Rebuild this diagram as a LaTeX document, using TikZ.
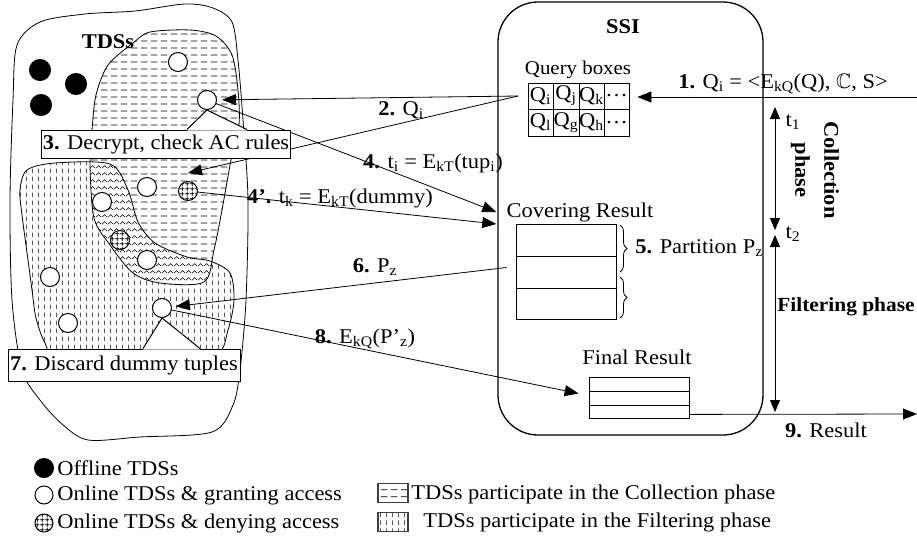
\documentclass[tikz,border=0pt]{standalone}
\usepackage{amssymb}
\usepackage{fontspec}
\setmainfont{Liberation Serif}[FakeStretch=1.07]
\usepackage{tikz}
\usetikzlibrary{arrows.meta,patterns,decorations.pathreplacing}

\newcommand{\bigfont}{\fontsize{21}{25}\selectfont}
\newcommand{\sbs}[1]{\textsubscript{#1}}

% fills of the two phases and of the denying TDSs
\pgfdeclarepatternformonly{hdash}{\pgfqpoint{0pt}{0pt}}{\pgfqpoint{10pt}{7pt}}{\pgfqpoint{10pt}{7pt}}{%
  \pgfsetlinewidth{0.8pt}%
  \pgfpathmoveto{\pgfqpoint{1pt}{3.5pt}}\pgfpathlineto{\pgfqpoint{8pt}{3.5pt}}\pgfusepath{stroke}}
\pgfdeclarepatternformonly{vdash}{\pgfqpoint{0pt}{0pt}}{\pgfqpoint{6pt}{8pt}}{\pgfqpoint{6pt}{8pt}}{%
  \pgfsetlinewidth{0.6pt}%
  \pgfpathmoveto{\pgfqpoint{3pt}{1pt}}\pgfpathlineto{\pgfqpoint{3pt}{6pt}}\pgfusepath{stroke}}
\pgfdeclarepatternformonly{zigzag}{\pgfqpoint{0pt}{0pt}}{\pgfqpoint{6pt}{7pt}}{\pgfqpoint{6pt}{7pt}}{%
  \pgfsetlinewidth{0.6pt}%
  \pgfpathmoveto{\pgfqpoint{0pt}{2pt}}\pgfpathlineto{\pgfqpoint{3pt}{5pt}}\pgfpathlineto{\pgfqpoint{6pt}{2pt}}\pgfusepath{stroke}}
\pgfdeclarepatternformonly{cgrid}{\pgfqpoint{0pt}{0pt}}{\pgfqpoint{5pt}{5pt}}{\pgfqpoint{5pt}{5pt}}{%
  \pgfsetlinewidth{0.9pt}%
  \pgfpathmoveto{\pgfqpoint{0pt}{2.5pt}}\pgfpathlineto{\pgfqpoint{5pt}{2.5pt}}%
  \pgfpathmoveto{\pgfqpoint{2.5pt}{0pt}}\pgfpathlineto{\pgfqpoint{2.5pt}{5pt}}\pgfusepath{stroke}}

% outlines of the TDSs areas
\newcommand{\tdsarea}{plot[smooth cycle] coordinates {(17,45) (40,22) (85,14) (135,11) (185,4) (213,8) (232,22) (238,60) (243,120) (248,200) (246,300) (240,370) (233,405) (212,432) (140,437) (88,440) (62,424) (40,400) (22,370) (12,300) (10,200) (13,100)}}
\newcommand{\collarea}{plot[smooth cycle] coordinates {(133,43) (150,32) (190,30) (216,36) (232,55) (238,90) (239,125) (231,160) (222,210) (214,250) (204,282) (160,283) (133,273) (110,245) (94,218) (90,165) (92,130) (96,95) (108,65)}}
\newcommand{\filtarea}{plot[smooth cycle] coordinates {(27,170) (55,163) (110,164) (128,190) (138,222) (155,243) (187,257) (210,261) (230,273) (234,300) (228,330) (215,355) (150,358) (60,358) (45,343) (36,318) (32,290) (28,260) (22,215) (20,190)}}

\tikzset{
  online/.style={circle, draw, fill=white, line width=1pt, minimum size=19pt, inner sep=0pt},
  offline/.style={online, fill=black, minimum size=21pt},
  denied/.style={online, preaction={fill=white}, pattern=cgrid},
  callbox/.style={draw, fill=white, line width=1pt, minimum height=28pt},
  arr/.style={-{Triangle[length=14pt,width=11pt]}},
  phasearr/.style={{Triangle[length=12pt,width=10pt]}-{Triangle[length=12pt,width=10pt]}},
  legbox/.style={draw=black!75, line width=1.5pt, minimum width=30pt, minimum height=19pt, inner sep=0pt},
}

\begin{document}
\begin{tikzpicture}[x=1pt, y=-1pt, font=\bigfont, inner sep=1pt, line width=0.8pt]
	\useasboundingbox (0,0) rectangle (917,541);

	% TDSs
	\draw[fill=white] \tdsarea;
	\fill[pattern=vdash] \filtarea;
	\fill[pattern=hdash] \collarea;
	\begin{scope}
		\clip \collarea;
		\fill[white] \filtarea;
		\fill[pattern=zigzag] \filtarea;
	\end{scope}
	\draw \collarea;
	\draw \filtarea;
	\node[font=\bigfont\bfseries] (tdst) at (108,42) {TDSs};

	\node[offline] (off1) at (40,70) {};
	\node[offline] (off2) at (76,84) {};
	\node[offline] (off3) at (41,105) {};
	\node[online] (on1) at (178,62) {};
	\node[online] (on2) at (207,100) {};
	\node[online] (on3) at (147,187) {};
	\node[online] (on4) at (102,202) {};
	\node[online] (on5) at (147,260) {};
	\node[online] (on6) at (50,277) {};
	\node[online] (on7) at (162,308) {};
	\node[online] (on8) at (68,323) {};
	\node[denied] (dn1) at (188,191) {};
	\node[denied] (dn2) at (120,240) {};

	% SSI
	\node[draw, line width=1.3pt, rounded corners=40pt, minimum width=265pt, minimum height=433pt] (ssi) at (630.5,218.5) {};
	\node[font=\bigfont\bfseries] (ssit) at (623,27) {SSI};

	\node[font=\fontsize{19.5}{22}\selectfont] (qbt) at (578,70) {Query boxes};
	\node[draw, minimum width=101pt, minimum height=53pt, inner sep=0pt] (qb) at (578.5,109.5) {};
	\draw (qb.west) -- (qb.east);
	\foreach \x in {553,579,604} \draw (\x,83) -- (\x,136);
	\foreach \t/\x/\y [count=\k] in {Q\sbs{i}/540.5/96, Q\sbs{j}/566/96, Q\sbs{k}/591.5/96, …/616.5/96,
		Q\sbs{l}/540.5/122.5, Q\sbs{g}/566/122.5, Q\sbs{h}/591.5/122.5, …/616.5/122.5}
		\node[inner sep=0pt] (q\k) at (\x,\y) {\t};

	\node (covt) at (580,212) {Covering Result};
	\node[draw, minimum width=100pt, minimum height=95pt, inner sep=0pt] (crb) at (566,271.5) {};
	\draw (516,256) -- (616,256);
	\draw (516,288) -- (616,288);
	\draw[decorate, decoration={brace, amplitude=7pt}] (620,225) -- (620,272);
	\draw[decorate, decoration={brace, amplitude=7pt}] (620,277) -- (620,318);
	\node[anchor=west] (part) at (634,248) {\textbf{5.} Partition P\sbs{z}};

	\node (fint) at (637,357) {Final Result};
	\node[draw, minimum width=100pt, minimum height=41pt, inner sep=0pt] (frb) at (639,397.5) {};
	\draw (589,391) -- (689,391);
	\draw (589,405) -- (689,405);

	% time line
	\coordinate (ta) at (775,107);
	\coordinate (tb) at (775,230);
	\coordinate (tc) at (775,235);
	\coordinate (td) at (775,412);
	\draw[phasearr] (ta) -- (tb);
	\draw[phasearr] (tc) -- (td);
	\node (t1) at (793,122) {t\sbs{1}};
	\node (t2) at (793,234) {t\sbs{2}};
	\node[rotate=-90, align=center, font=\bigfont\bfseries] (colp) at (815,170) {Collection\\[4pt]phase};
	\node[anchor=east, font=\fontsize{20}{24}\selectfont\bfseries] (filp) at (916,307) {Filtering phase};

	% messages
	\coordinate (qin) at (917,97);
	\coordinate (qout) at (518,96);
	\coordinate (rout) at (917,414);
	\draw[arr, shorten >=8pt] (qin) -- (qin -| qb.east);
	\node (l1) at (783,84) {\textbf{1.} Q\sbs{i} = <E\sbs{kQ}(Q), $\mathbb{C}$, S>};
	\draw[arr, shorten >=5pt] (qout) -- (on2);
	\draw[arr] (qout) -- ([yshift=8pt]dn1.north);
	\node (l2) at (401,110) {\textbf{2.} Q\sbs{i}};
	\draw[arr] (on2) -- ([xshift=-9pt]covt.west);
	\node (l4) at (433,163) {\textbf{4.} t\sbs{i} = E\sbs{kT}(tup\sbs{i})};
	\draw[arr] (dn1) -- ([xshift=-9pt,yshift=-12pt]covt.west);
	%\draw[arr] (dn2) -- ([xshift=-9pt,yshift=-12pt]covt.west);
	\node (l4b) at (340,198) {\textbf{4’.} t\sbs{k} = E\sbs{kT}(dummy)};
	\draw[arr, shorten >=4pt] ([xshift=-9pt,yshift=4pt]crb.west) -- (on7);
	\node (l6) at (375,267) {\textbf{6.} P\sbs{z}};
	\draw[arr] (on7) -- ([xshift=-10pt,yshift=4pt]frb.west);
	\node (l8) at (365,339) {\textbf{8.} E\sbs{kQ}(P’\sbs{z})};
	\draw[arr] ([yshift=4pt]frb.south east) -- (rout);
	\node (l9) at (826,430) {\textbf{9.} Result};

	% steps done by the TDSs
	\node[callbox, minimum width=248pt] (dec) at (166,144) {\textbf{3.} Decrypt, check AC rules};
	\fill[white] ([xshift=21pt,yshift=-1pt]dec.north) -- (on2.south) -- ([xshift=81pt,yshift=-1pt]dec.north) -- cycle;
	\draw[line width=1pt] ([xshift=21pt]dec.north) -- (on2.south) -- ([xshift=81pt]dec.north);
	\node[callbox, minimum width=232pt, minimum height=32pt] (disc) at (124,365) {\textbf{7.} Discard dummy tuples};
	\fill[white] ([xshift=19pt,yshift=-1pt]disc.north) -- (on7.south) -- ([xshift=76pt,yshift=-1pt]disc.north) -- cycle;
	\draw[line width=1pt] ([xshift=19pt]disc.north) -- (on7.south) -- ([xshift=76pt]disc.north);

	% legend
	\node[offline, minimum size=19pt] (lg1) at (44,468) {};
	\node[online, minimum size=18pt] (lg2) at (44,495) {};
	\node[denied, minimum size=18pt] (lg3) at (44,523) {};
	\node[anchor=west] (lt1) at (56,468) {Offline TDSs};
	\node[anchor=west] (lt2) at (56,495) {Online TDSs \& granting access};
	\node[anchor=west] (lt3) at (56,523) {Online TDSs \& denying access};
	\node[legbox, pattern=hdash] (lg4) at (393,493) {};
	\node[legbox, pattern=vdash] (lg5) at (393,522) {};
	\node[anchor=west] (lt4) at (410,494) {TDSs participate in the Collection phase};
	\node[anchor=west] (lt5) at (422,522) {TDSs participate in the Filtering phase};
\end{tikzpicture}
\end{document}
